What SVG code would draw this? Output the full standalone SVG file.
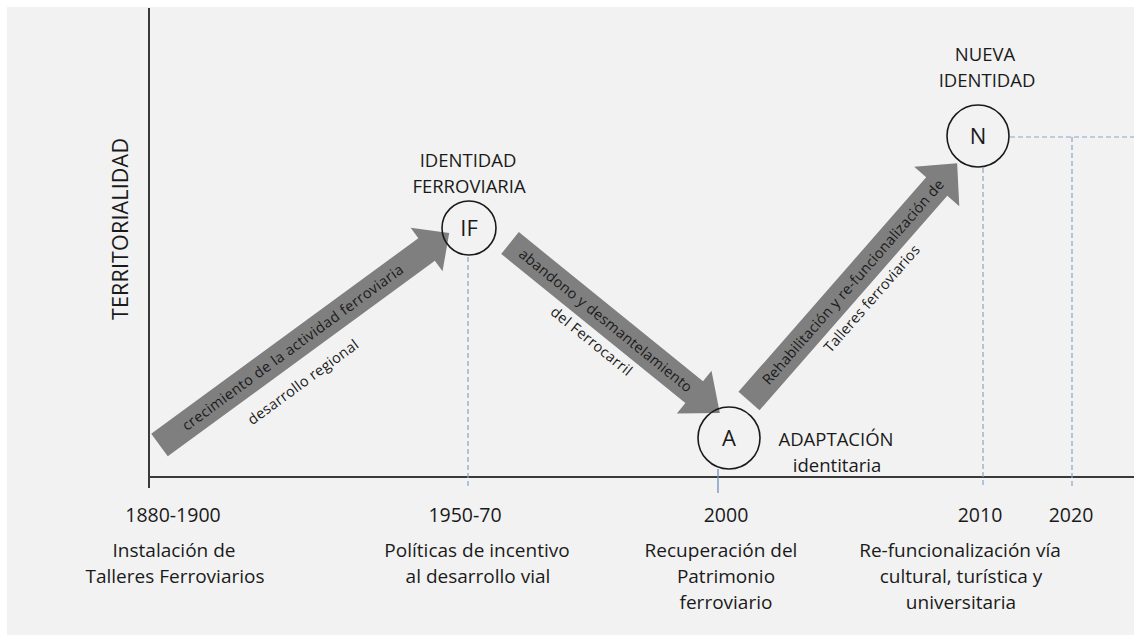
<svg xmlns="http://www.w3.org/2000/svg" width="1134" height="635" viewBox="0 0 1134 635">
  <style>
    text { font-family: "Open Sans", "Liberation Sans", sans-serif; fill: #1a1a1a; }
    .lbl { font-size: 18.5px; text-anchor: middle; }
    .yr { font-size: 19.5px; text-anchor: middle; }
    .desc { font-size: 19px; text-anchor: middle; }
    .circ { fill: none; stroke: #1a1a1a; stroke-width: 1.6; }
    .ctext { font-size: 22px; text-anchor: middle; }
    .arrow { fill: #7f7f7f; }
    .atext { font-size: 14.5px; text-anchor: middle; fill: #1a1a1a; }
    .guide { stroke: #86a3c8; stroke-width: 1.2; fill: none; stroke-dasharray: 5 3; }
    .axis { stroke: #3a3a3a; fill: none; }
  </style>
  <rect x="0" y="0" width="1134" height="635" fill="#ffffff"/>
  <rect x="7" y="7" width="1127" height="628" fill="#f2f2f2"/>

  <g id="axes">
    <line class="axis" x1="149" y1="8" x2="149" y2="488" stroke-width="2"/>
    <line class="axis" x1="149" y1="477" x2="1134" y2="477" stroke-width="1.8"/>
    <text transform="translate(128,229) rotate(-90)" font-size="21.5" text-anchor="middle" fill="#262626" textLength="182">TERRITORIALIDAD</text>
  </g>

  <g id="guides">
    <line class="guide" x1="468" y1="257" x2="468" y2="487"/>
    <line x1="718" y1="469" x2="718" y2="493" stroke="#6f8fba" stroke-width="1.3"/>
    <line class="guide" x1="983" y1="168" x2="983" y2="487"/>
    <line class="guide" x1="1072" y1="137" x2="1072" y2="487"/>
    <line class="guide" x1="1010" y1="137" x2="1134" y2="137" stroke-dasharray="7 3 1.5 3"/>
  </g>

  <g id="connectors">
    <g id="arrow-growth" transform="translate(159.5,445) rotate(-36.2)">
      <path class="arrow" d="M0,-14 L331,-14 L331,-27 L359,0 L331,27 L331,14 L0,14 Z"/>
      <text class="atext" x="165" y="5" textLength="270">crecimiento de la actividad ferroviaria</text>
      <text class="atext" x="153" y="39" textLength="133">desarrollo regional</text>
    </g>
    <g id="arrow-abandon" transform="translate(510,243) rotate(39)">
      <path class="arrow" d="M0,-14 L237,-14 L237,-27.5 L270,0 L237,27.5 L237,14 L0,14 Z"/>
      <text class="atext" x="123" y="5" textLength="218">abandono y desmantelamiento</text>
      <text class="atext" x="125" y="30" textLength="100">del Ferrocarril</text>
    </g>
    <g id="arrow-rehab" transform="translate(749,401) rotate(-48.8)">
      <path class="arrow" d="M0,-14 L285,-14 L285,-30 L316,0 L285,30 L285,14 L0,14 Z"/>
      <text class="atext" x="158" y="5" textLength="267">Rehabilitación y re-funcionalización de</text>
      <text class="atext" x="158" y="30" textLength="137">Talleres ferroviarios</text>
    </g>
  </g>

  <g id="node-IF">
    <circle class="circ" cx="469" cy="228" r="27"/>
    <text class="ctext" x="469" y="236">IF</text>
    <text class="lbl" x="468" y="167">IDENTIDAD</text>
    <text class="lbl" x="469" y="193">FERROVIARIA</text>
  </g>

  <g id="node-A">
    <circle class="circ" cx="729" cy="438" r="31"/>
    <text class="ctext" x="729" y="446">A</text>
    <text class="lbl" x="836" y="446">ADAPTACIÓN</text>
    <text class="lbl" x="837" y="472">identitaria</text>
  </g>

  <g id="node-N">
    <circle class="circ" cx="978" cy="136" r="31"/>
    <text class="ctext" x="978" y="144">N</text>
    <text class="lbl" x="985" y="61">NUEVA</text>
    <text class="lbl" x="987" y="87">IDENTIDAD</text>
  </g>

  <g id="timeline">
    <text class="yr" x="173" y="522">1880-1900</text>
    <text class="desc" x="174" y="557">Instalación de</text>
    <text class="desc" x="175" y="583">Talleres Ferroviarios</text>

    <text class="yr" x="465" y="522">1950-70</text>
    <text class="desc" x="477" y="557">Políticas de incentivo</text>
    <text class="desc" x="478" y="583">al desarrollo vial</text>

    <text class="yr" x="726" y="522">2000</text>
    <text class="desc" x="721" y="557">Recuperación del</text>
    <text class="desc" x="726" y="583">Patrimonio</text>
    <text class="desc" x="726" y="609">ferroviario</text>

    <text class="yr" x="980" y="522">2010</text>
    <text class="yr" x="1071" y="522">2020</text>
    <text class="desc" x="960" y="557">Re-funcionalización vía</text>
    <text class="desc" x="961" y="583">cultural, turística y</text>
    <text class="desc" x="961" y="609">universitaria</text>
  </g>
</svg>
